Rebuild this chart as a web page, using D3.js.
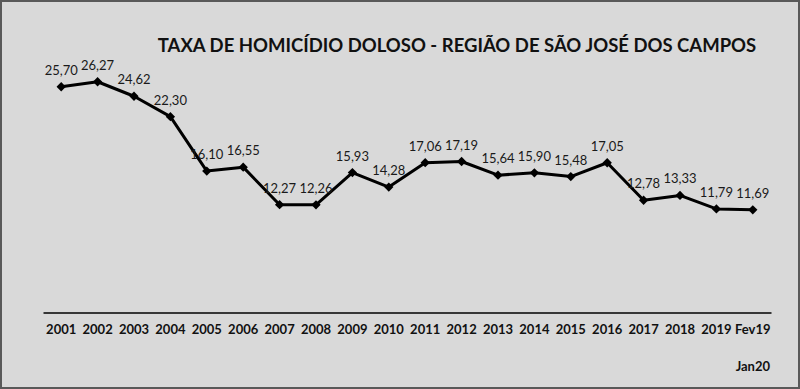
<!DOCTYPE html>
<html>
<head>
<meta charset="utf-8">
<script src="https://cdn.jsdelivr.net/npm/d3@7"></script>
<style>
  body { margin: 0; background: #fff; }
  svg { display: block; }
</style>
</head>
<body>
<div id="chart"></div>
<script>
// values
var categories = ["2001", "2002", "2003", "2004", "2005", "2006", "2007", "2008", "2009", "2010",
    "2011", "2012", "2013", "2014", "2015", "2016", "2017", "2018", "2019", "Fev19"];
var rates = [25.70, 26.27, 24.62, 22.30, 16.10, 16.55, 12.27, 12.26, 15.93, 14.28,
    17.06, 17.19, 15.64, 15.90, 15.48, 17.05, 12.78, 13.33, 11.79, 11.69];
var title = "TAXA DE HOMICÍDIO DOLOSO - REGIÃO DE SÃO JOSÉ DOS CAMPOS";
var subLabel = "Jan20";

var width = 800, height = 389;
var fontFamily = "Lato, 'Open Sans', sans-serif";

var svg = d3.select("#chart")
    .append("svg")
    .attr("width", width)
    .attr("height", height);

svg.append("rect")
    .attr("x", 1)
    .attr("y", 1)
    .attr("width", width - 2)
    .attr("height", height - 2)
    .style("fill", "#d9d9d9")
    .style("stroke", "#595959")
    .style("stroke-width", "2px");

var x = d3.scaleBand()
    .domain(categories)
    .range([43, 771]);

var y = d3.scaleLinear()
    .domain([0, 30])
    .range([312.5, 49]);

// title
svg.append("text")
    .attr("x", 457)
    .attr("y", 52)
    .attr("text-anchor", "middle")
    .attr("font-weight", "bold")
    .style("font-family", fontFamily)
    .style("font-size", "18.5px")
    .style("fill", "#111")
    .text(title);

// x axis
var axis = d3.axisBottom(x)
    .tickSize(0)
    .tickPadding(12);

var gAxis = svg.append("g")
    .attr("transform", "translate(0," + y(0) + ")")
    .call(axis);

gAxis.select("path")
    .style("stroke", "#000")
    .style("stroke-width", "1.5px");

gAxis.selectAll(".tick text")
    .style("font-family", fontFamily)
    .style("font-size", "13px")
    .style("font-weight", "bold")
    .style("fill", "#111");

svg.append("text")
    .attr("x", 770)
    .attr("y", 371)
    .attr("text-anchor", "end")
    .attr("font-weight", "bold")
    .style("font-family", fontFamily)
    .style("font-size", "13px")
    .style("fill", "#111")
    .text(subLabel);

// line
var line = d3.line()
    .x((d, i) => x(categories[i]) + x.bandwidth() / 2)
    .y(d => y(d));

svg.append("path")
    .datum(rates)
    .attr("d", line)
    .style("fill", "none")
    .style("stroke", "#000")
    .style("stroke-width", "3px")
    .style("stroke-linejoin", "round");

svg.selectAll(".marker")
    .data(rates)
    .enter()
    .append("path")
    .attr("class", "marker")
    .attr("d", d3.symbol().type(d3.symbolDiamond2).size(55))
    .attr("transform", (d, i) => "translate(" + (x(categories[i]) + x.bandwidth() / 2) + "," + y(d) + ")")
    .style("fill", "#000");

svg.selectAll(".valueLabel")
    .data(rates)
    .enter()
    .append("text")
    .attr("class", "valueLabel")
    .attr("x", (d, i) => x(categories[i]) + x.bandwidth() / 2)
    .attr("y", d => y(d) - 12)
    .attr("text-anchor", "middle")
    .style("font-family", fontFamily)
    .style("font-size", "13px")
    .style("fill", "#1a1a1a")
    .text(d => d3.format(".2f")(d).replace(".", ","));
</script>
</body>
</html>
